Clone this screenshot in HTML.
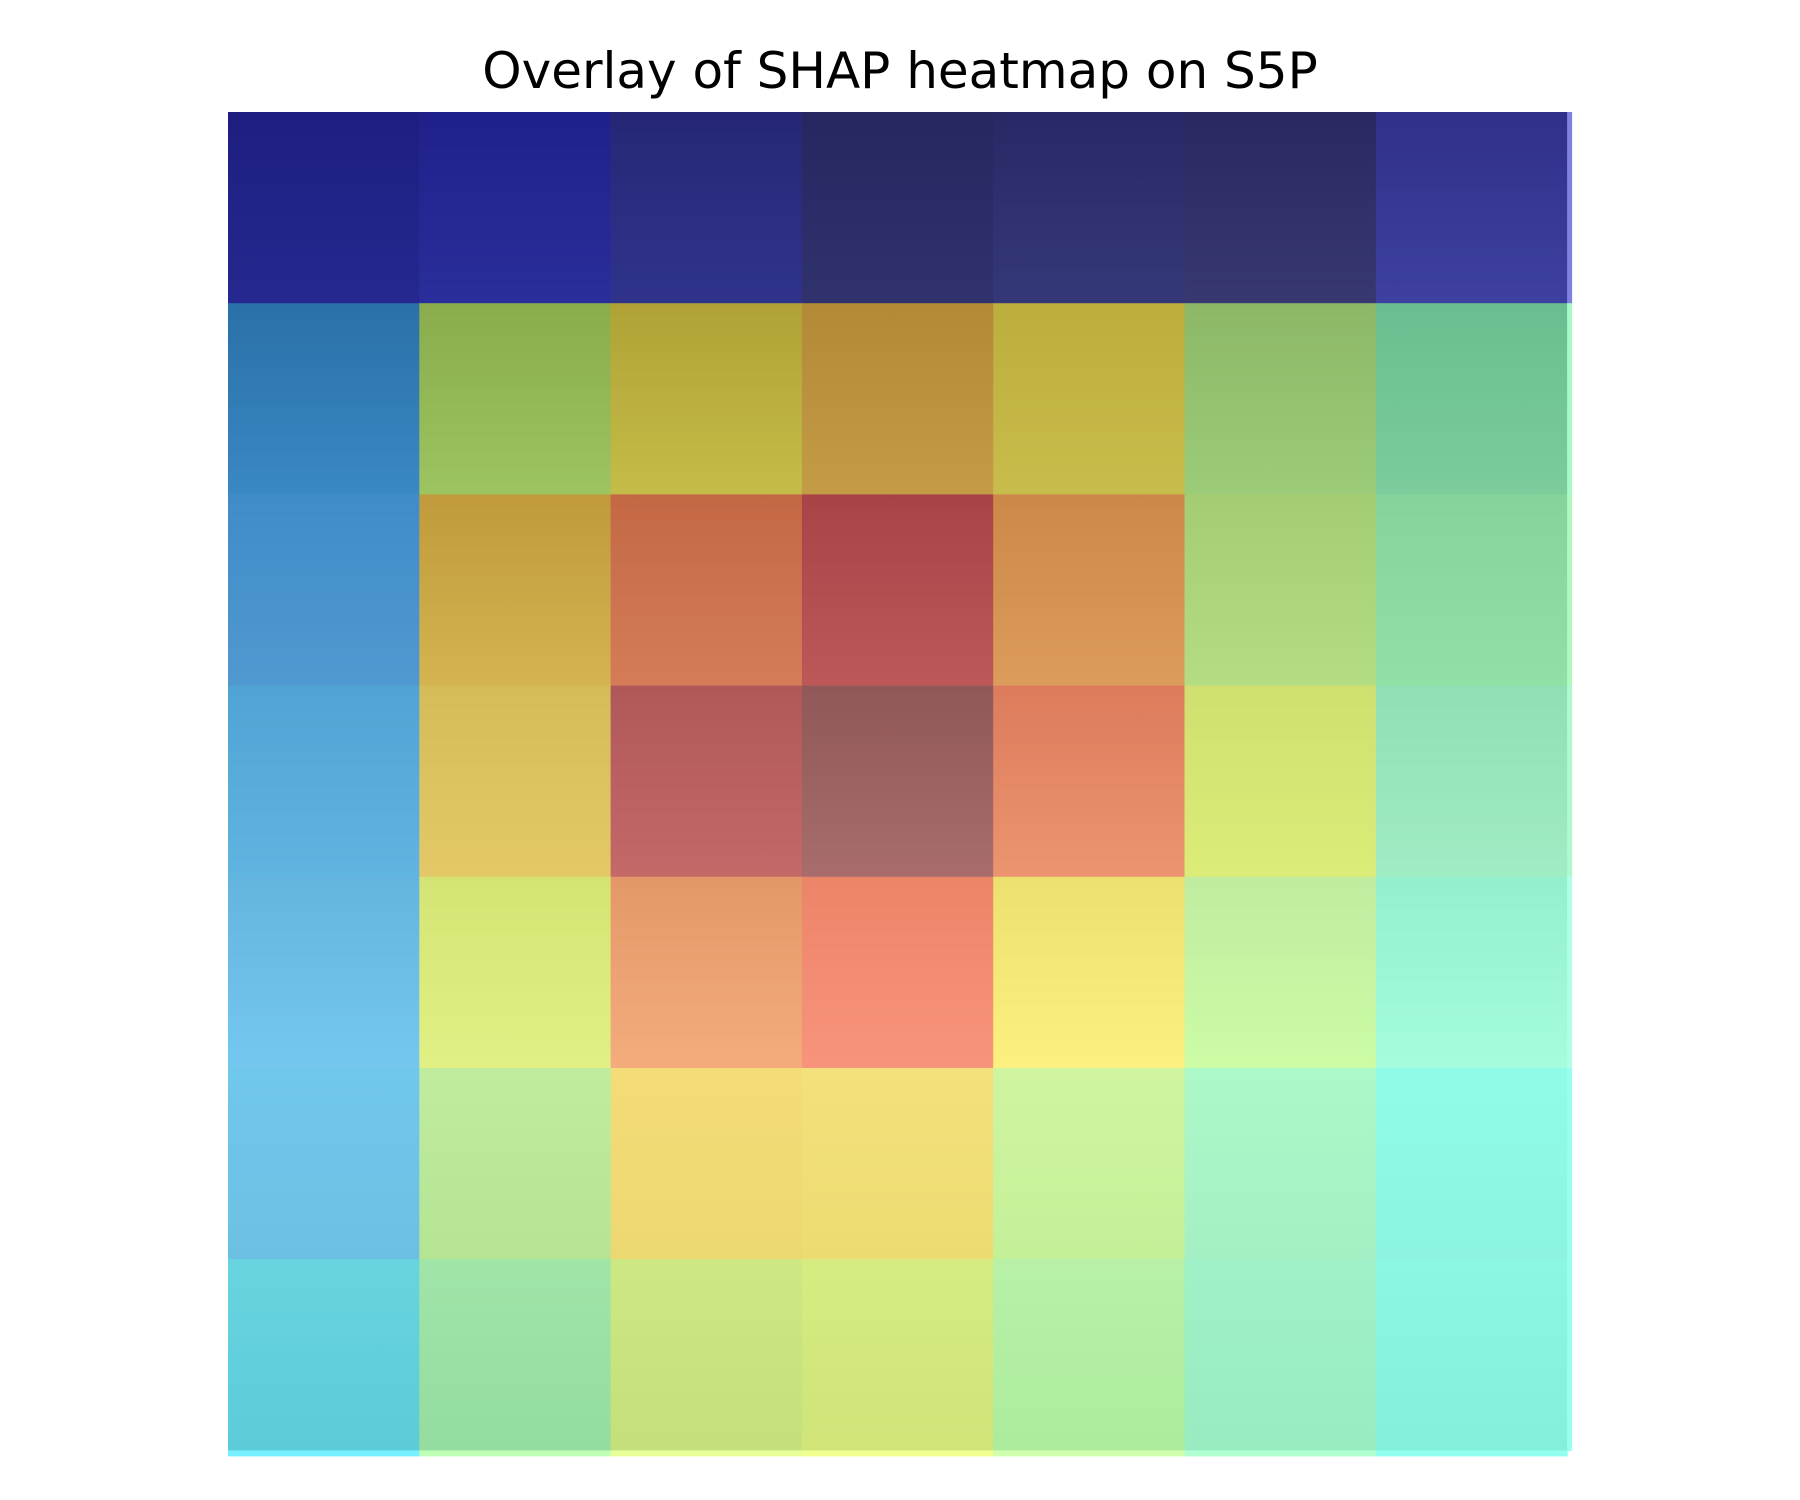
<!DOCTYPE html>
<html><head><meta charset="utf-8"><style>
html,body{margin:0;padding:0;background:#fff;width:1800px;height:1500px;overflow:hidden}
svg{display:block}
</style></head><body>
<svg id="chart" width="1800" height="1500" xmlns="http://www.w3.org/2000/svg">
<defs id="defs"></defs>
<text x="900" y="88" text-anchor="middle" font-family="DejaVu Sans, Liberation Sans, sans-serif" font-size="50" fill="#000">Overlay of SHAP heatmap on S5P</text>
<g id="cells"></g>
</svg>
<script>
const rowLabels = [0,1,2,3,4,5,6];
const colLabels = [0,1,2,3,4,5,6];
const topColors = [
 ["#1e1e80","#20208a","#252775","#262660","#282866","#2a2860","#30308a"],
 ["#2a70a8","#8aac4c","#b0a235","#b28935","#bcae3c","#8cb866","#68be90"],
 ["#408cc8","#c09a3c","#c46844","#a84448","#cc8848","#a4cc70","#84d49c"],
 ["#50a4d4","#d4bc58","#b05858","#905858","#dc7c5c","#d0e070","#90e0b4"],
 ["#64b4e0","#d4e474","#e49868","#ec8468","#ece070","#c0eca0","#94f0cc"],
 ["#70c8ec","#c0eca0","#f4dc78","#f4e07c","#d0f4a0","#acf8c8","#90fce8"],
 ["#68d4e0","#a0e4a8","#cce884","#d4ec80","#b8f0a8","#a0f0c8","#8cf8e4"]
];
const bottomColors = [
 ["#252890","#2a2e9a","#30338c","#30326e","#353878","#383870","#3e40a0"],
 ["#3a88c4","#9cc460","#c4bc48","#c49c48","#c8bc4c","#9ccc78","#7ccc9c"],
 ["#5098d0","#d4b450","#d47c58","#bc5858","#dc9c5c","#b4dc80","#90e0a8"],
 ["#60b4e0","#e4c868","#c46868","#a86c6c","#ec9470","#dcec78","#a0ecc4"],
 ["#74c8f0","#e0f084","#f4ac7c","#f8947c","#fcf080","#ccfca4","#a4fcdc"],
 ["#6cc0e4","#b4e494","#ecd870","#ecdc70","#c4f098","#a4f0c4","#8cf4e0"],
 ["#5cccd8","#94dca0","#c4e07c","#d0e478","#acec9c","#98ecc0","#84f0dc"]
];
const extraRowColors = ["#78f0ff","#c0ffb8","#e8ff98","#f0ff90","#d0ffb0","#b0ffd0","#90fff0"];
const extraColColors = ["#8080e0","#a8f8c8","#b0f8c0","#b0f8d0","#b0ffe8","#98fff0","#98fff0"];

const x0=228, y0=112, cw=191.3, ch=191.2;
const xPos = c => x0 + c*cw;
const yPos = r => y0 + r*ch;
const svgNS="http://www.w3.org/2000/svg";
const defs=document.getElementById('defs');
const g=document.getElementById('cells');
rowLabels.forEach((r)=>{
  colLabels.forEach((c)=>{
    const gid='g'+r+'_'+c;
    const lg=document.createElementNS(svgNS,'linearGradient');
    lg.setAttribute('id',gid);lg.setAttribute('x1','0');lg.setAttribute('y1','0');lg.setAttribute('x2','0');lg.setAttribute('y2','1');
    const s1=document.createElementNS(svgNS,'stop');s1.setAttribute('offset','0');s1.setAttribute('stop-color',topColors[r][c]);
    const s2=document.createElementNS(svgNS,'stop');s2.setAttribute('offset','1');s2.setAttribute('stop-color',bottomColors[r][c]);
    lg.appendChild(s1);lg.appendChild(s2);defs.appendChild(lg);
    const rect=document.createElementNS(svgNS,'rect');
    
    
    rect.setAttribute('x',xPos(c));rect.setAttribute('y',yPos(r));
    rect.setAttribute('width',cw+0.6);rect.setAttribute('height',ch+0.6);
    rect.setAttribute('fill','url(#'+gid+')');
    g.appendChild(rect);
  });
  const ec=document.createElementNS(svgNS,'rect');
  
  
  ec.setAttribute('x',xPos(7));ec.setAttribute('y',yPos(r));
  ec.setAttribute('width',5);ec.setAttribute('height',ch+0.6);
  ec.setAttribute('fill',extraColColors[r]);
  g.appendChild(ec);
});
colLabels.forEach((c)=>{
  const er=document.createElementNS(svgNS,'rect');
  
  
  er.setAttribute('x',xPos(c));er.setAttribute('y',yPos(7));
  er.setAttribute('width',cw+0.6);er.setAttribute('height',6);
  er.setAttribute('fill',extraRowColors[c]);
  g.appendChild(er);
});
</script>
</body></html>
